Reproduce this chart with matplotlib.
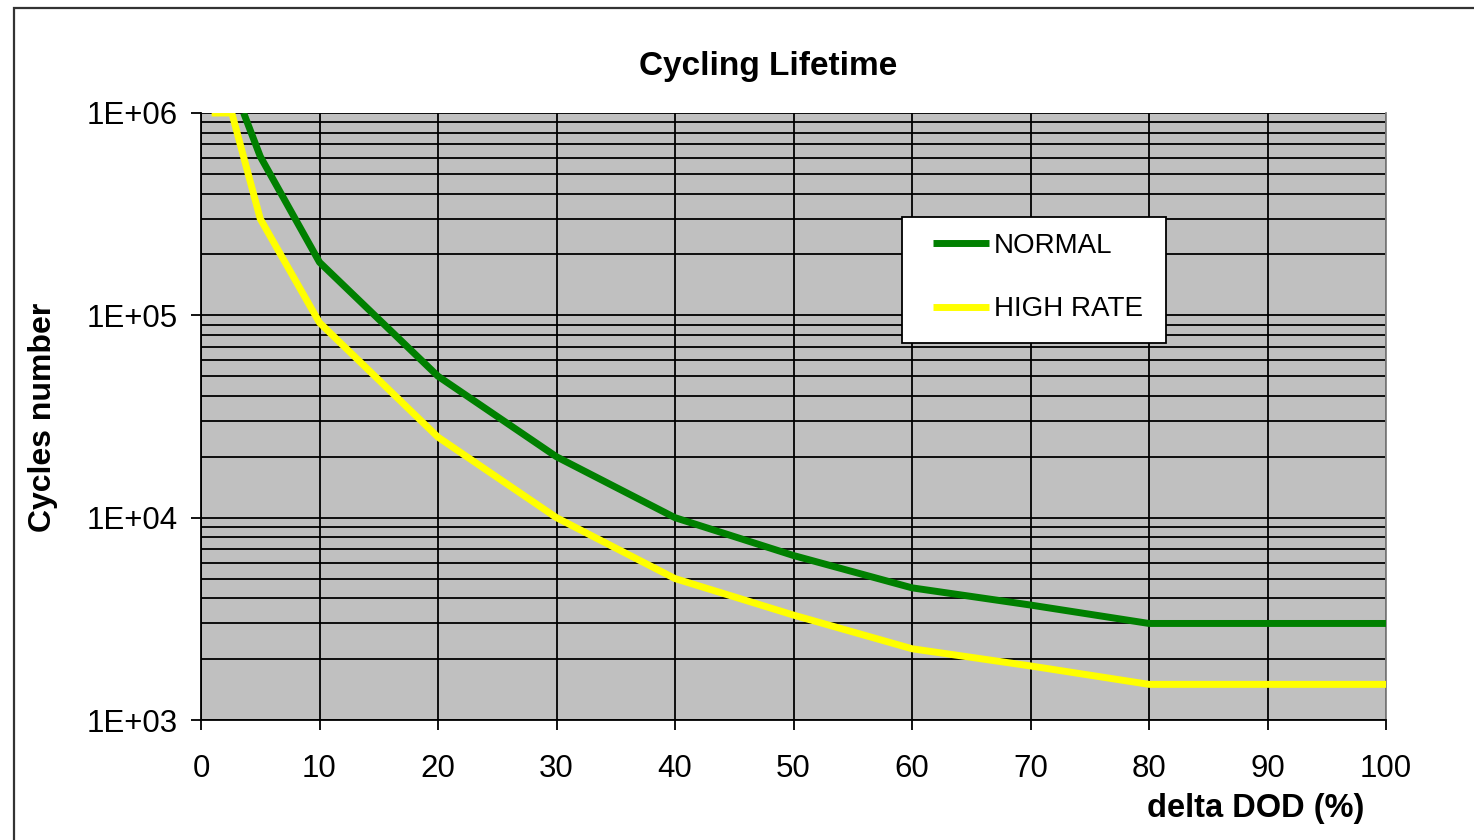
import matplotlib.pyplot as plt
from matplotlib.patches import Rectangle
from matplotlib.ticker import FixedLocator, LogLocator, NullFormatter

plt.rcParams['font.family'] = ['Liberation Sans', 'DejaVu Sans']

# depth of discharge (%) and cycle counts
dod_normal = [3.6, 5, 10, 20, 30, 40, 50, 60, 70, 80, 90, 100]
cycles_normal = [1e6, 6.1e5, 1.83e5, 5.0e4, 2.0e4, 1.0e4, 6.5e3, 4.5e3, 3.7e3, 3.0e3, 3.0e3, 3.0e3]

dod_high = [0.9, 2.6, 5, 10, 20, 30, 40, 50, 60, 70, 80, 90, 100]
cycles_high = [1e6, 1e6, 3.0e5, 9.2e4, 2.5e4, 1.0e4, 5.0e3, 3.3e3, 2.25e3, 1.85e3, 1.5e3, 1.5e3, 1.5e3]

y_ticks = [1e3, 1e4, 1e5, 1e6]
y_ticklabels = ['1E+03', '1E+04', '1E+05', '1E+06']
x_ticks = [0, 10, 20, 30, 40, 50, 60, 70, 80, 90, 100]

W, H = 1474, 840
fig = plt.figure(figsize=(W / 100, H / 100), dpi=100)

# outer chart frame (runs off the right and bottom edges)
fig.patches.append(Rectangle((14 / W, -0.05), 1.2, 1 - 8 / H + 0.05,
                             transform=fig.transFigure, fill=False,
                             edgecolor='#333333', linewidth=1.6))

ax = fig.add_axes([201 / W, 1 - 720 / H, 1185 / W, 607 / H])
ax.set_facecolor('#c0c0c0')

ax.plot(dod_normal, cycles_normal, color='#008000', linewidth=5, label='NORMAL',
        solid_capstyle='butt', zorder=3)
ax.plot(dod_high, cycles_high, color='#ffff00', linewidth=5, label='HIGH RATE',
        solid_capstyle='butt', zorder=3)

ax.set_yscale('log')
ax.set_xlim(0, 100)
ax.set_ylim(1e3, 1e6)

ax.yaxis.set_major_locator(FixedLocator(y_ticks))
ax.set_yticklabels(y_ticklabels)
ax.yaxis.set_minor_locator(LogLocator(base=10, subs=range(2, 10)))
ax.yaxis.set_minor_formatter(NullFormatter())
ax.set_xticks(x_ticks)

ax.grid(True, which='major', color='black', linewidth=1.3)
ax.grid(True, which='minor', axis='y', color='black', linewidth=1.3)
ax.set_axisbelow(True)

ax.tick_params(axis='both', which='major', direction='out', length=7.5, width=1.3,
               labelsize=22.5)
ax.tick_params(axis='y', pad=9)
ax.tick_params(axis='x', pad=17)
ax.tick_params(axis='y', which='minor', length=0)

for side in ['left', 'bottom']:
    ax.spines[side].set_color('black')
    ax.spines[side].set_linewidth(1.3)
ax.spines['top'].set_visible(False)
ax.spines['right'].set_color('#808080')
ax.spines['right'].set_linewidth(1.3)

fig.text(768 / W, 1 - 67 / H, 'Cycling Lifetime', ha='center', va='center',
         fontsize=24, fontweight='bold')
fig.text(43 / W, 1 - 417 / H, 'Cycles number', ha='center', va='center',
         rotation=90, fontsize=23, fontweight='bold')
fig.text(1256 / W, 1 - 808 / H, 'delta DOD (%)', ha='center', va='center',
         fontsize=23.5, fontweight='bold')

# legend box drawn separately so its padding can be set freely
ax.add_patch(Rectangle(((902 - 201) / 1185, (720 - 343) / 607), 264 / 1185, 126 / 607,
                       transform=ax.transAxes, facecolor='white', edgecolor='black',
                       linewidth=1.3, zorder=4))
leg = ax.legend(loc='upper left', bbox_to_anchor=((933 - 201) / 1185, (720 - 233) / 607),
                fontsize=20, frameon=False, handlelength=2.0, handletextpad=0.2,
                labelspacing=1.35, borderpad=0, borderaxespad=0)
leg.set_zorder(5)

fig.savefig('out.png', dpi=100)
